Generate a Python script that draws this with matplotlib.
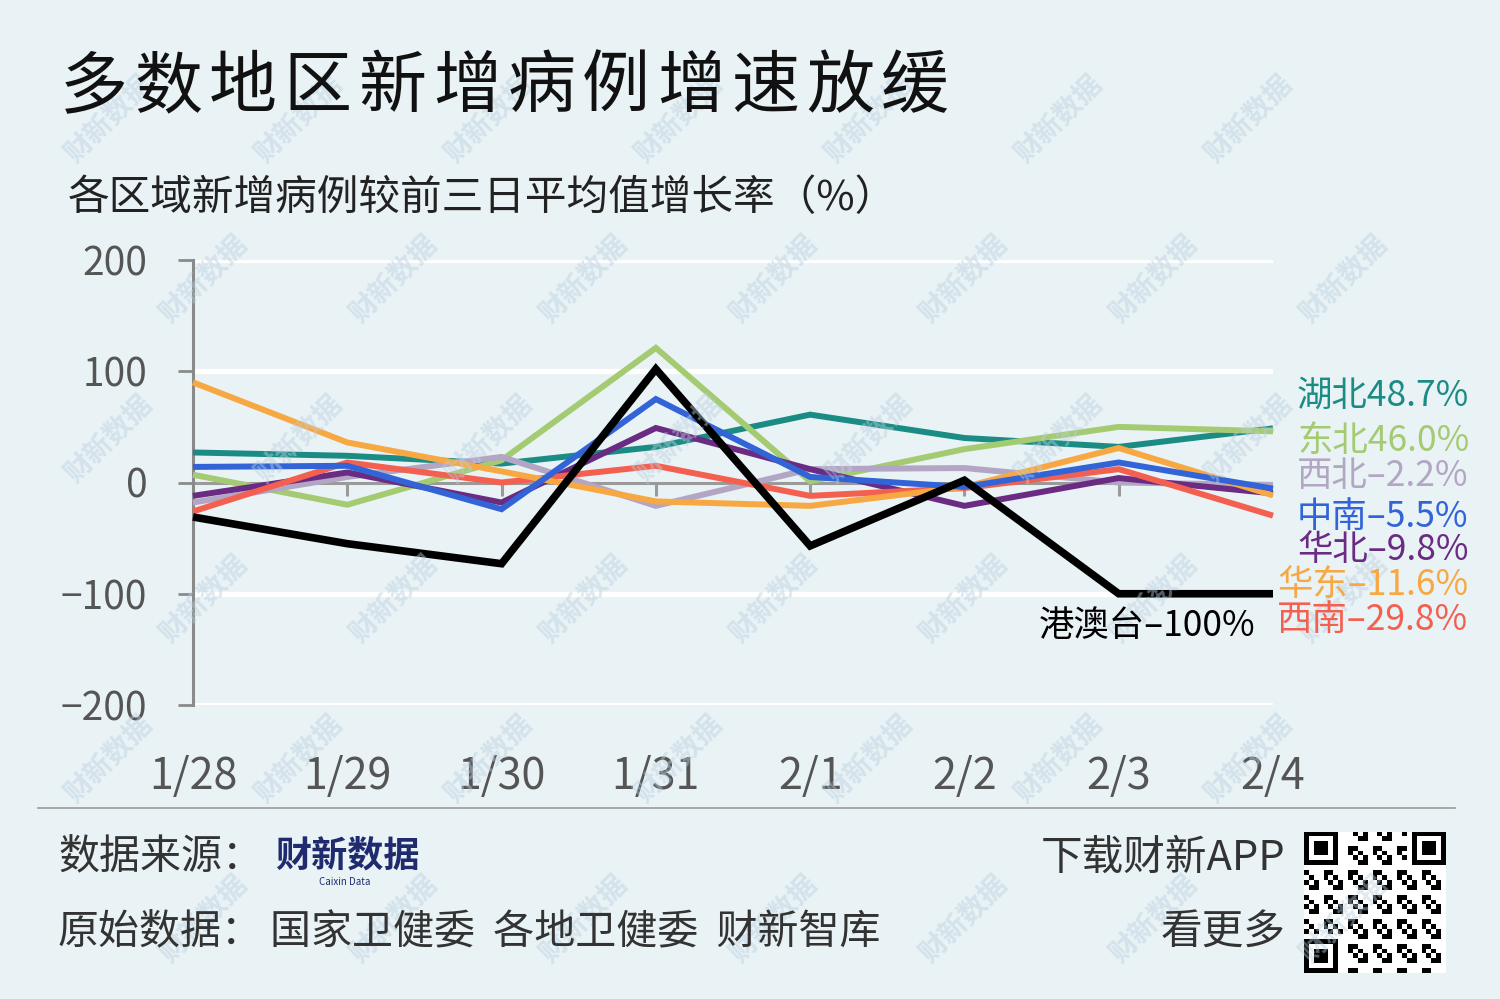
import matplotlib
matplotlib.use("Agg")
import matplotlib.pyplot as plt
import numpy as np

plt.rcParams['font.family'] = ['Noto Sans CJK SC', 'DejaVu Sans']

# ---- data ----
dates = ["1/28", "1/29", "1/30", "1/31", "2/1", "2/2", "2/3", "2/4"]
hubei = [27, 24, 17, 32, 61, 40, 32, 48.7]
dongbei = [7, -20, 20, 121, 1, 30, 50, 46.0]
xibei = [-18, 5, 23, -21, 12, 13, 0, -2.2]
zhongnan = [14, 15, -24, 75, 5, -4, 18, -5.5]
huabei = [-12, 9, -18, 49, 12, -21, 4, -9.8]
huadong = [90, 36, 10, -17, -21, -4, 31, -11.6]
xinan = [-26, 18, 0, 15, -12, -5, 12, -29.8]
gangaotai = [-31, -55, -73, 102, -57, 2, -100, -100]

yticks = [200, 100, 0, -100, -200]
ytick_labels = ["200", "100", "0", "−100", "−200"]

title = "多数地区新增病例增速放缓"
subtitle = "各区域新增病例较前三日平均值增长率（%）"

BG = "#e9f2f5"
LIGHT = "light"
series = [
    ("湖北48.7%", hubei, "#1b8c84", 4.3, 396, 1297),
    ("东北46.0%", dongbei, "#a4cb72", 4.3, 441, 1297),
    ("西北–2.2%", xibei, "#b3a6c4", 4.3, 476, 1297),
    ("华北–9.8%", huabei, "#6a2c83", 4.3, 550, 1297),
    ("西南–29.8%", xinan, "#f4604f", 4.3, 620, 1277),
    ("华东–11.6%", huadong, "#f8a843", 4.3, 585, 1277),
    ("中南–5.5%", zhongnan, "#3264d8", 4.3, 517, 1297),
    ("港澳台–100%", gangaotai, "#000000", 5.5, 626, None),
]

W, H = 1500, 999
fig = plt.figure(figsize=(15, 9.99), dpi=100, facecolor=BG)

def fx(px):
    return px / W

def fy(py):
    return 1 - py / H

# watermarks (behind everything else drawn later on figure level)
for row in range(6):
    for col in range(7):
        wx = 110 + col * 190 + (row % 2) * 95
        wy = 120 + row * 160
        if wx > 1420:
            continue
        fig.text(fx(wx), fy(wy), "财新数据", fontsize=20, fontweight="bold",
                 color="#b9cfdf", alpha=0.45, rotation=45, ha="center",
                 va="center", zorder=0)

ax = fig.add_axes([fx(193), fy(705), fx(1273) - fx(193), fy(260) - fy(705)])
ax.set_facecolor("none")
x = np.arange(len(dates))
ax.set_xlim(0, len(dates) - 1)
ax.set_ylim(-200, 200)

for s in ["top", "right", "bottom"]:
    ax.spines[s].set_visible(False)
ax.spines["left"].set_color("#8a8a8a")
ax.spines["left"].set_linewidth(2.2)

for yv in [200, 100, -100, -200]:
    ax.axhline(yv, color="white", lw=3.8, zorder=1)
ax.axhline(0, color="#9a9a9a", lw=2.2, zorder=1.5)
ax.vlines(x[1:], -12, 0, color="#9a9a9a", lw=2.2, zorder=1.5)

ax.set_yticks(yticks)
ax.set_yticklabels(ytick_labels, fontweight=LIGHT)
ax.tick_params(axis="y", length=11, width=2, color="#8a8a8a", labelsize=28,
               labelcolor="#555555", pad=22)
ax.set_xticks(x)
ax.set_xticklabels(dates, fontweight=LIGHT)
ax.tick_params(axis="x", length=0, labelsize=31, labelcolor="#555555", pad=36)

for i, (lab, vals, col, lw, ly, lx) in enumerate(series):
    ax.plot(x, vals, color=col, lw=lw, solid_joinstyle="miter",
            solid_capstyle="butt", zorder=3 + i, clip_on=False)
    if lx is None:
        fig.text(fx(1255), fy(ly), lab, color=col, fontsize=25.5,
                 fontweight=LIGHT, ha="right", va="center")
    else:
        fig.text(fx(lx), fy(ly), lab, color=col, fontsize=25.5,
                 fontweight=LIGHT, ha="left", va="center")

# title with letter spacing
for k, ch in enumerate(title):
    fig.text(fx(60 + k * 74.6), fy(88), ch, fontsize=49, fontweight="medium",
             color="#111111", ha="left", va="center")
fig.text(fx(68), fy(198), subtitle, fontsize=30, fontweight=LIGHT,
         color="#222222", ha="left", va="center")

# footer
fig.add_artist(plt.Line2D([fx(38), fx(1455)], [fy(808), fy(808)],
                          color="#9a9a9a", lw=1.2))
fig.text(fx(58), fy(858), "数据来源：", fontsize=29.5, fontweight=LIGHT,
         color="#333333", ha="left", va="center")
fig.text(fx(275), fy(856), "财新数据", fontsize=26, fontweight="heavy",
         color="#1f2b6e", ha="left", va="center")
fig.text(fx(345), fy(882), "Caixin Data", fontsize=7, color="#1f2b6e",
         ha="center", va="center")
fig.text(fx(58), fy(933), "原始数据：", fontsize=29.5, fontweight=LIGHT,
         color="#333333", ha="left", va="center")
fig.text(fx(270), fy(933), "国家卫健委  各地卫健委  财新智库", fontsize=29.5,
         fontweight=LIGHT, color="#333333", ha="left", va="center")
fig.text(fx(1285), fy(858), "下载财新APP", fontsize=30, fontweight=LIGHT,
         color="#333333", ha="right", va="center")
fig.text(fx(1285), fy(933), "看更多", fontsize=30, fontweight=LIGHT,
         color="#333333", ha="right", va="center")

# QR-like decoration
qr_ax = fig.add_axes([fx(1303), fy(973), fx(1447) - fx(1303), fy(832) - fy(973)])
n = 29
ii, jj = np.meshgrid(np.arange(n), np.arange(n), indexing="ij")
grid = (((ii * 7 + jj * 13 + ii * jj) % 5) < 2).astype(float)
for (r, c) in [(0, 0), (0, n - 7), (n - 7, 0)]:
    grid[max(r - 1, 0):min(r + 8, n), max(c - 1, 0):min(c + 8, n)] = 0
    grid[r:r + 7, c:c + 7] = 1
    grid[r + 1:r + 6, c + 1:c + 6] = 0
    grid[r + 2:r + 5, c + 2:c + 5] = 1
qr_ax.imshow(grid, cmap="Greys", interpolation="nearest", vmin=0, vmax=1)
qr_ax.axis("off")

fig.savefig("out.png", dpi=100, facecolor=BG)
